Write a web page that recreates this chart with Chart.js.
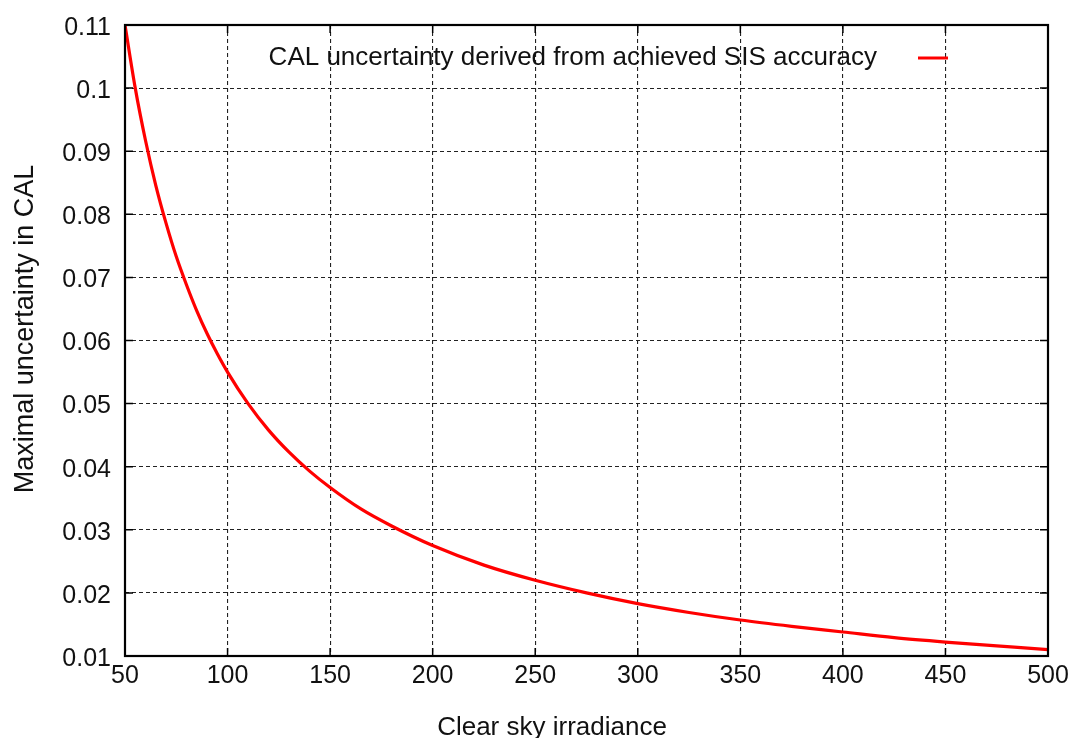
<!DOCTYPE html>
<html>
<head>
<meta charset="utf-8">
<title>CAL uncertainty</title>
<script src="https://cdn.jsdelivr.net/npm/chart.js@4/dist/chart.umd.min.js"></script>
<style>
    html, body { margin: 0; padding: 0; background: #fff; }
    #wrap { width: 1077px; height: 738px; }
</style>
</head>
<body>
<div id="wrap"><canvas id="chart" width="1077" height="738"></canvas></div>
<script>
/* global Chart */

var irradiance = [50, 55, 60, 65, 70, 75, 80, 85, 90, 95, 100, 110, 120, 130, 140, 150,
    165, 180, 200, 225, 250, 275, 300, 325, 350, 375, 400, 425, 450, 475, 500];
var uncertainty = [0.1100, 0.1000, 0.0917, 0.0846, 0.0786, 0.0733, 0.0688, 0.0647, 0.0611, 0.0579,
    0.0550, 0.0500, 0.0458, 0.0423, 0.0393, 0.0367, 0.0333, 0.0306, 0.0275, 0.0244, 0.0220,
    0.0200, 0.0183, 0.0169, 0.0157, 0.0147, 0.0138, 0.0129, 0.0122, 0.0116, 0.0110];
var seriesLabel = 'CAL uncertainty derived from achieved SIS accuracy';
var xTitle = 'Clear sky irradiance';
var yTitle = 'Maximal uncertainty in CAL';

(function () {

    var FONT = '"Liberation Sans", Arial, Helvetica, sans-serif';

    var points = irradiance.map(function (x, i) {
        return { x: x, y: uncertainty[i] };
    });

    // gnuplot-like decorations: frame, inward tick marks, key and axis labels
    var gnuplotFrame = {
        id: 'gnuplotFrame',
        afterDraw: function (chart) {
            var ctx = chart.ctx;
            var area = chart.chartArea;
            var xs = chart.scales.x;
            var ys = chart.scales.y;
            var tick = 8;

            ctx.save();
            ctx.strokeStyle = '#000';
            ctx.lineWidth = 1.5;
            ctx.setLineDash([]);
            ctx.beginPath();
            xs.ticks.forEach(function (t) {
                var px = xs.getPixelForValue(t.value);
                ctx.moveTo(px, area.bottom);
                ctx.lineTo(px, area.bottom - tick);
                ctx.moveTo(px, area.top);
                ctx.lineTo(px, area.top + tick);
            });
            ys.ticks.forEach(function (t) {
                var py = ys.getPixelForValue(t.value);
                ctx.moveTo(area.left, py);
                ctx.lineTo(area.left + tick, py);
                ctx.moveTo(area.right, py);
                ctx.lineTo(area.right - tick, py);
            });
            ctx.stroke();

            ctx.lineWidth = 2.2;
            ctx.strokeRect(area.left, area.top, area.right - area.left, area.bottom - area.top);

            // key, text to the left of the line sample
            var ds = chart.data.datasets[0];
            var keyY = area.top + 33;
            ctx.font = '26px ' + FONT;
            ctx.fillStyle = '#111';
            ctx.textAlign = 'right';
            ctx.textBaseline = 'middle';
            ctx.fillText(ds.label, area.right - 171, keyY);
            ctx.strokeStyle = ds.borderColor;
            ctx.lineWidth = 3;
            ctx.beginPath();
            ctx.moveTo(area.right - 130, keyY);
            ctx.lineTo(area.right - 100, keyY);
            ctx.stroke();

            // axis titles
            ctx.fillStyle = '#111';
            ctx.textAlign = 'center';
            ctx.textBaseline = 'alphabetic';
            ctx.fillText(xTitle, 552, 735);
            ctx.font = '27px ' + FONT;
            ctx.translate(33, 329);
            ctx.rotate(-Math.PI / 2);
            ctx.fillText(yTitle, 0, 0);
            ctx.restore();
        }
    };

    var gridOpts = {
        color: '#222',
        lineWidth: 1.1,
        drawTicks: false
    };

    var config = {
        type: 'line',
        data: {
            datasets: [{
                label: seriesLabel,
                data: points,
                borderColor: '#ff0000',
                borderWidth: 3.2,
                pointRadius: 0,
                fill: false,
                cubicInterpolationMode: 'monotone'
            }]
        },
        options: {
            responsive: false,
            animation: false,
            layout: {
                padding: { top: 25, right: 29, left: 0, bottom: 0 }
            },
            plugins: {
                legend: { display: false },
                tooltip: { enabled: false }
            },
            scales: {
                x: {
                    type: 'linear',
                    min: 50,
                    max: 500,
                    grid: gridOpts,
                    border: { display: false, dash: [4, 3] },
                    ticks: {
                        stepSize: 50,
                        padding: 5,
                        color: '#111',
                        maxRotation: 0,
                        font: { family: FONT, size: 25 }
                    },
                    afterFit: function (scale) {
                        scale.height = 82;
                    }
                },
                y: {
                    type: 'linear',
                    min: 0.01,
                    max: 0.11,
                    grid: gridOpts,
                    border: { display: false, dash: [4, 3] },
                    ticks: {
                        stepSize: 0.01,
                        padding: 14,
                        labelOffset: 3,
                        color: '#111',
                        // short line height so the top label does not push the plot down
                        font: { family: FONT, size: 25, lineHeight: 0.8 },
                        callback: function (v) {
                            return String(Number(v.toFixed(2)));
                        }
                    },
                    afterFit: function (scale) {
                        scale.width = 125;
                    }
                }
            }
        },
        plugins: [gnuplotFrame]
    };

    new Chart(document.getElementById('chart').getContext('2d'), config);

})();
</script>
</body>
</html>
